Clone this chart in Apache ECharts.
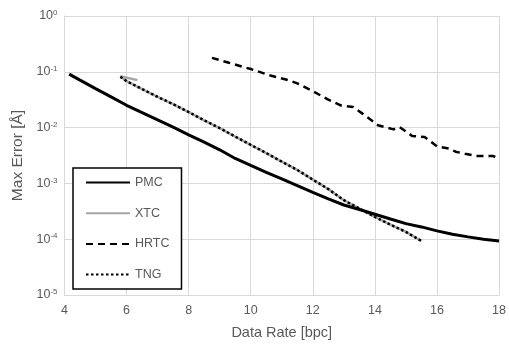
<!DOCTYPE html>
<html><head><meta charset="utf-8">
<script src="https://cdn.jsdelivr.net/npm/echarts@6/dist/echarts.min.js"></script>
<style>html,body{margin:0;padding:0;background:#fff}#c{width:509px;height:347px}</style>
</head><body><div id="c"></div>
<script>
const xTicks = [4, 6, 8, 10, 12, 14, 16, 18];
const yTickExps = [0, -1, -2, -3, -4, -5];

const pmcX = [4.15, 4.5, 5.0, 5.5, 6.0, 6.5, 7.0, 7.5, 8.0, 8.5, 9.0, 9.5, 10.0, 10.5, 11.0, 11.5, 12.0, 12.5, 13.0, 13.5, 14.0, 14.5, 15.0, 15.5, 16.0, 16.5, 17.0, 17.5, 18.0];
const pmcY = [0.091, 0.071, 0.050, 0.0355, 0.0251, 0.0186, 0.0138, 0.0102, 0.0074, 0.0055, 0.0040, 0.0028, 0.0021, 0.00158, 0.0012, 0.00091, 0.00069, 0.00053, 0.00041, 0.00034, 0.00028, 0.00023, 0.00019, 0.000166, 0.000141, 0.000123, 0.00011, 0.0001, 0.000093];

const xtcX = [6.35, 5.8, 6.0, 6.5, 7.0, 7.5, 8.0, 8.5, 9.0, 9.5, 10.0, 10.5, 11.0, 11.5, 12.0, 12.5, 13.0, 13.5, 14.0, 14.5, 15.0, 15.5];
const xtcY = [0.071, 0.083, 0.068, 0.049, 0.0355, 0.0263, 0.019, 0.0135, 0.0098, 0.0069, 0.0049, 0.0035, 0.00245, 0.00174, 0.00117, 0.00079, 0.0005, 0.000355, 0.00025, 0.000182, 0.000135, 0.000093];

const hrtcX = [8.75, 9.3, 10.0, 10.6, 11.2, 11.5, 12.0, 12.5, 12.9, 13.3, 13.6, 14.1, 14.6, 14.8, 15.2, 15.6, 16.0, 16.4, 16.6, 16.9, 17.3, 17.8, 18.0];
const hrtcY = [0.178, 0.145, 0.112, 0.087, 0.071, 0.062, 0.045, 0.0316, 0.025, 0.0234, 0.0178, 0.011, 0.0093, 0.0102, 0.0071, 0.0068, 0.0046, 0.0042, 0.0037, 0.0034, 0.0031, 0.0031, 0.0028];

const tngX = [5.8, 6.0, 6.5, 7.0, 7.5, 8.0, 8.5, 9.0, 9.5, 10.0, 10.5, 11.0, 11.5, 12.0, 12.5, 13.0, 13.5, 14.0, 14.5, 15.0, 15.5];
const tngY = [0.081, 0.068, 0.049, 0.0355, 0.0263, 0.019, 0.0135, 0.0098, 0.0069, 0.0049, 0.0035, 0.00245, 0.00174, 0.00117, 0.00079, 0.0005, 0.000355, 0.00025, 0.000182, 0.000135, 0.000093];

const zip = (xs, ys) => xs.map((x, i) => [x, ys[i]]);
const FONT = 'Liberation Sans';
const TXT = '#595959';
const chart = echarts.init(document.getElementById('c'), null, {renderer: 'canvas'});
chart.setOption({
  animation: false,
  textStyle: {fontFamily: FONT},
  grid: {left: 64.5, right: 7, top: 16, bottom: 52},
  xAxis: {
    type: 'value', min: xTicks[0], max: xTicks[xTicks.length - 1], interval: 2,
    name: 'Data Rate [bpc]', nameLocation: 'middle', nameGap: 30,
    nameTextStyle: {color: TXT, fontSize: 14.5, fontFamily: FONT},
    axisLine: {lineStyle: {color: '#d9d9d9', width: 1}},
    axisTick: {show: false},
    axisLabel: {color: TXT, fontSize: 12.5, margin: 9, fontFamily: FONT},
    splitLine: {lineStyle: {color: '#d9d9d9', width: 1}}
  },
  yAxis: {
    type: 'log', logBase: 10, min: Math.pow(10, yTickExps[yTickExps.length - 1]), max: Math.pow(10, yTickExps[0]),
    name: 'Max Error [Å]', nameLocation: 'middle', nameGap: 38,
    nameTextStyle: {color: TXT, fontSize: 15.5, fontFamily: FONT},
    axisLine: {show: true, lineStyle: {color: '#d9d9d9', width: 1}},
    axisTick: {show: false},
    axisLabel: {
      margin: 7,
      formatter: v => '{b|10}{s|' + Math.round(Math.log10(v)) + '}',
      rich: {
        b: {color: TXT, fontSize: 12.5, fontFamily: FONT},
        s: {color: TXT, fontSize: 8, fontFamily: FONT, verticalAlign: 'top', padding: [0, 0, 6, 0]}
      }
    },
    splitLine: {lineStyle: {color: '#d9d9d9', width: 1}}
  },
  legend: {
    orient: 'vertical', left: 73, top: 168,
    backgroundColor: '#fff', borderColor: '#000', borderWidth: 1.5,
    padding: [8, 12, 8, 12],
    itemWidth: 44, itemHeight: 14, itemGap: 17.7,
    itemStyle: {opacity: 0},
    textStyle: {color: TXT, fontSize: 12.5, fontFamily: FONT},
    data: ['PMC', 'XTC', 'HRTC', 'TNG']
  },
  series: [
    {name: 'PMC', type: 'line', data: zip(pmcX, pmcY), symbol: 'none', z: 3,
     lineStyle: {color: '#000', width: 3}, itemStyle: {color: '#000'}},
    {name: 'XTC', type: 'line', data: zip(xtcX, xtcY), symbol: 'none', z: 2,
     lineStyle: {color: '#a5a5a5', width: 2.5}, itemStyle: {color: '#a5a5a5'}},
    {name: 'HRTC', type: 'line', data: zip(hrtcX, hrtcY), symbol: 'none', z: 3,
     lineStyle: {color: '#000', width: 2.5, type: [7, 5]}, itemStyle: {color: '#000'}},
    {name: 'TNG', type: 'line', data: zip(tngX, tngY), symbol: 'none', z: 4,
     lineStyle: {color: '#000', width: 2.5, type: [2.5, 2.5]}, itemStyle: {color: '#000'}}
  ]
});
</script></body></html>
